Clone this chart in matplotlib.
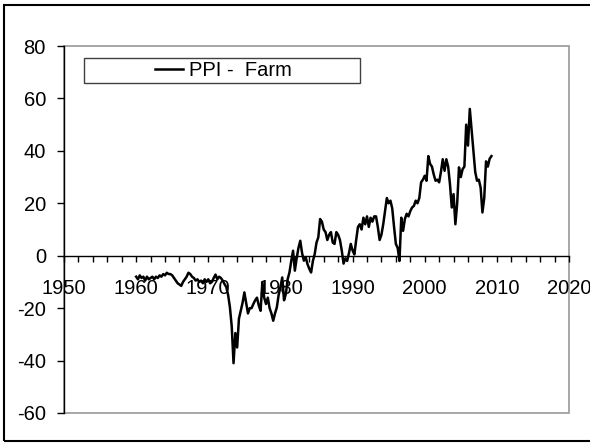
import matplotlib
matplotlib.use("Agg")
import matplotlib.pyplot as plt
from matplotlib.patches import Rectangle
from matplotlib.lines import Line2D
import numpy as np

plt.rcParams["font.family"] = ["Liberation Sans", "DejaVu Sans"]
plt.rcParams["font.size"] = 14.5
plt.rcParams["axes.unicode_minus"] = False

# quarterly readings of the farm PPI series, starting 1960 Q1
start_year = 1960.0
step = 0.25
ppi_farm = [
    -8, -9, -7.5, -8.5,        # 1960
    -8, -9.5, -8, -9,          # 1961
    -8.5, -8, -9, -8,          # 1962
    -8.5, -7.5, -8, -7,        # 1963
    -7.5, -6.5, -7, -7,        # 1964
    -7.5, -8.5, -9.5, -10.5,   # 1965
    -11, -11.5, -10, -9,       # 1966
    -8, -6.5, -7, -8,          # 1967
    -8.5, -9.5, -9, -10,       # 1968
    -9.5, -10.5, -9, -10,      # 1969
    -9, -10.5, -10, -8.5,      # 1970
    -7.2, -9, -8, -8.5,        # 1971
    -9.5, -10.8, -12, -15,     # 1972
    -19.7, -27, -41, -29.5,    # 1973
    -35, -24, -21, -18,        # 1974
    -14, -18, -22, -20,        # 1975
    -20, -18.4, -17, -16,      # 1976
    -19, -21, -10, -16,        # 1977
    -18.4, -16, -20, -22,      # 1978
    -24.8, -22, -19.7, -15,    # 1979
    -12, -8.3, -17, -14.6,     # 1980
    -9, -6.4, -2, 1.9,         # 1981
    -5.7, -1, 3, 5.7,          # 1982
    1, -1.9, -0.5, -3.2,       # 1983
    -5, -6.4, -2, 0.6,         # 1984
    5, 7, 14, 13,              # 1985
    10, 9, 6, 8,               # 1986
    9, 5, 4.5, 9,              # 1987
    8, 6, 2, -3,               # 1988
    -1, -2, 1, 4.5,            # 1989
    2, 0.5, 6, 11,             # 1990
    12, 10, 14.5, 12,          # 1991
    15, 11, 14.5, 13,          # 1992
    15, 15, 11, 6,             # 1993
    8, 12, 17, 22,             # 1994
    20, 21, 18, 11,            # 1995
    4.5, 3, -2, 14.5,          # 1996
    9.5, 14, 16, 15,           # 1997
    17, 18.4, 19, 21,          # 1998
    20, 22, 28, 29,            # 1999
    30.5, 28.6, 38, 35,        # 2000
    34, 31, 28.6, 29,          # 2001
    28, 32, 36.8, 32.4,        # 2002
    36.8, 34, 27.3, 18.4,      # 2003
    23.5, 12, 20, 33.7,        # 2004
    30, 33, 34, 50,            # 2005
    42, 56, 48, 40,            # 2006
    32, 28.6, 29, 26,          # 2007
    16.5, 22, 36, 34,          # 2008
    37, 38,                    # 2009
]
years = start_year + step * np.arange(len(ppi_farm))

series_label = "PPI -  Farm"
x_major = np.arange(1950, 2021, 10)
x_minor = np.arange(1950, 2021, 2)
y_ticks = np.arange(-60, 81, 20)

fig = plt.figure(figsize=(5.9, 4.43), dpi=100)
ax = fig.add_axes([64 / 590, 1 - 413 / 443, 505 / 590, 367 / 443])

ax.plot(years, ppi_farm, color="black", lw=1.8, zorder=3)

ax.set_xlim(1950, 2020)
ax.set_ylim(-60, 80)

# plot area border (gray), y axis black, x axis crossing at zero
ax.add_patch(Rectangle((0, 0), 1, 1, transform=ax.transAxes, fill=False,
                       edgecolor="#a0a0a0", lw=1.3, zorder=1, clip_on=False))
for s in ["top", "right"]:
    ax.spines[s].set_visible(False)
ax.spines["left"].set_color("black")
ax.spines["left"].set_linewidth(1.0)
ax.spines["bottom"].set_position(("data", 0))
ax.spines["bottom"].set_color("black")
ax.spines["bottom"].set_linewidth(1.0)
ax.spines["left"].set_zorder(4)

ax.set_xticks(x_major)
ax.set_xticks(x_minor, minor=True)
ax.set_yticks(y_ticks)
ax.tick_params(axis="x", which="both", direction="out", length=4, width=1,
               color="black", pad=13)
ax.tick_params(axis="y", direction="out", length=5, width=1, pad=8)

# legend in a wide box
ax.add_patch(Rectangle((0.04, 0.898), 0.547, 0.069, transform=ax.transAxes,
                       fill=True, facecolor="white", edgecolor="#404040",
                       lw=1.0, zorder=5))
handle = Line2D([], [], color="black", lw=1.8)
ax.legend([handle], [series_label], loc="center",
          bbox_to_anchor=(0.315, 0.9325), frameon=False, handlelength=1.4,
          handletextpad=0.3, borderpad=0, fontsize=14.5).set_zorder(6)

# outer chart border
fig.patches.append(Rectangle((4 / 590, 2.5 / 443), 590 / 590, 436 / 443,
                             transform=fig.transFigure, fill=False,
                             edgecolor="black", lw=1.5))

plt.savefig("out.png")
